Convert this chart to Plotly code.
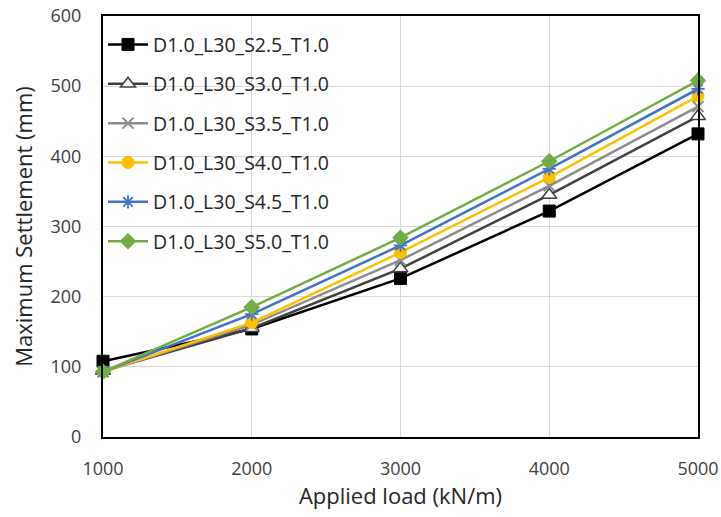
import plotly.graph_objects as go

# Applied load levels (kN/m)
loads = [1000, 2000, 3000, 4000, 5000]

# Maximum settlement (mm) for each pile spacing case
s25 = [108, 154, 226, 322, 432]
s30 = [94, 155, 240, 345, 457]
s35 = [93, 160, 252, 358, 471]
s40 = [93, 163, 263, 370, 486]
s45 = [93, 175, 273, 382, 496]
s50 = [93, 185, 284, 393, 508]

names = [
    "D1.0_L30_S2.5_T1.0",
    "D1.0_L30_S3.0_T1.0",
    "D1.0_L30_S3.5_T1.0",
    "D1.0_L30_S4.0_T1.0",
    "D1.0_L30_S4.5_T1.0",
    "D1.0_L30_S5.0_T1.0",
]

series = [s25, s30, s35, s40, s45, s50]

styles = [
    dict(line="#000000", marker=dict(symbol="square", size=12, color="#000000",
                                     line=dict(color="#000000", width=1))),
    dict(line="#404040", marker=dict(symbol="triangle-up", size=13, color="#ffffff",
                                     line=dict(color="#404040", width=1.5))),
    dict(line="#8c8c8c", marker=dict(symbol="x-thin", size=11, color="#8c8c8c",
                                     line=dict(color="#8c8c8c", width=2))),
    dict(line="#FFC000", marker=dict(symbol="circle", size=12, color="#FFC000",
                                     line=dict(color="#FFC000", width=1))),
    dict(line="#4472C4", marker=dict(symbol="asterisk", size=11, color="#4472C4",
                                     line=dict(color="#4472C4", width=1.8))),
    dict(line="#70AD47", marker=dict(symbol="diamond", size=12, color="#70AD47",
                                     line=dict(color="#70AD47", width=1))),
]

font = "Open Sans, Noto Sans, sans-serif"

fig = go.Figure()
for i, (name, ys, st) in enumerate(zip(names, series, styles)):
    fig.add_trace(go.Scatter(
        x=loads, y=ys, name=name, mode="lines+markers",
        line=dict(color=st["line"], width=2.5),
        marker=st["marker"],
        legendgroup=f"g{i}",
        cliponaxis=False,
    ))

fig.update_layout(
    width=721, height=517,
    margin=dict(l=103, r=23, t=16, b=80),
    paper_bgcolor="white", plot_bgcolor="white",
    font=dict(family=font, size=18, color="#404040"),
    showlegend=True,
    legend=dict(
        x=0.0, y=0.978, xanchor="left", yanchor="top",
        bgcolor="rgba(255,255,255,0)",
        font=dict(family=font, size=19.5, color="#262626"),
        tracegroupgap=11,
        itemwidth=40,
    ),
    xaxis=dict(
        range=[1000, 5000], tickvals=loads, automargin=False,
        showgrid=True, gridcolor="#d9d9d9", gridwidth=1,
        showline=True, linecolor="#000000", linewidth=2, mirror=True,
        ticks="", zeroline=False, ticklabelstandoff=14,
        tickfont=dict(size=18, color="#404040"),
        title=dict(text="Applied load (kN/m)", font=dict(size=22, color="#262626"), standoff=10),
    ),
    yaxis=dict(
        range=[0, 600], dtick=100, automargin=False,
        showgrid=True, gridcolor="#d9d9d9", gridwidth=1,
        showline=True, linecolor="#000000", linewidth=2, mirror=True,
        ticks="", zeroline=False, ticklabelstandoff=16,
        tickfont=dict(size=18, color="#404040"),
        title=dict(text="Maximum Settlement (mm)", font=dict(size=22, color="#262626"), standoff=12),
    ),
)

fig.write_html("out.html")
